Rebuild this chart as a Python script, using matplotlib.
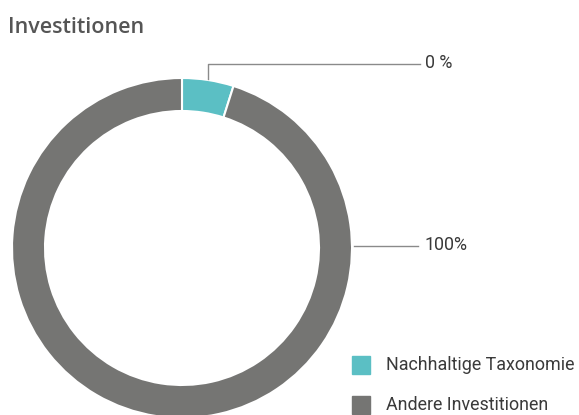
import matplotlib
matplotlib.use('Agg')
import matplotlib.pyplot as plt
from matplotlib.patches import Rectangle

W, H = 579, 415

CATEGORIES = ['Nachhaltige Taxonomie', 'Andere Investitionen']
# visual share of the ring (the labels themselves read 0 % / 100 %)
SHARES = [4.9, 95.1]
LABELS = ['0 %', '100%']
COLORS = ['#5bbfc4', '#757573']

TITLE = 'Investitionen'
BODY = ['Roboto', 'DejaVu Sans']

fig = plt.figure(figsize=(W / 100, H / 100), dpi=100)
ax = fig.add_axes([0, 0, 1, 1])

# work in pixel coordinates, y measured from the bottom
cx, cy, r = 182, H - 248, 170
ax.pie(SHARES, colors=COLORS, startangle=90, counterclock=False,
       center=(cx, cy), radius=r,
       wedgeprops=dict(width=33, edgecolor='white', linewidth=1.5))
ax.set_xlim(0, W)
ax.set_ylim(0, H)
ax.set_aspect('equal')
ax.axis('off')

line_kw = dict(color='#8a8a8a', linewidth=1)
text_kw = dict(color='#3a3a3a', fontsize=12.9, family=BODY, va='center')

# leader for the small slice
ax.plot([208, 208, 420], [H - 79, H - 64, H - 64], **line_kw)
ax.text(425, H - 63, LABELS[0], **text_kw)

# leader for the big slice
ax.plot([354, 418], [H - 246, H - 246], **line_kw)
ax.text(425, H - 245, LABELS[1], **text_kw)

ax.text(8, H - 28, TITLE, color='#555555', fontsize=15.5,
        family=['Open Sans', 'DejaVu Sans'], weight='semibold', va='center')

# legend
for i, (name, col) in enumerate(zip(CATEGORIES, COLORS)):
    y = H - 365 - i * 40
    ax.add_patch(Rectangle((352, y - 9), 18, 18, color=col))
    ax.text(386, y, name, **text_kw)

fig.savefig('out.png', dpi=100)
